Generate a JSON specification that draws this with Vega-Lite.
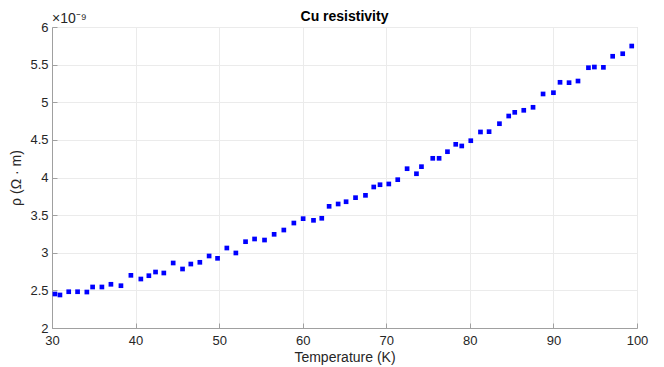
{
  "$schema": "https://vega.github.io/schema/vega-lite/v6.json",
  "autosize": {"type": "none"},
  "width": 585,
  "height": 301,
  "padding": {"left": 52, "top": 27, "right": 27, "bottom": 39},
  "background": "white",
  "config": {
    "font": "Liberation Sans",
    "view": {"stroke": "#d9d9d9", "strokeWidth": 1},
    "axis": {
      "domainColor": "#a0a0a0",
      "tickColor": "#a0a0a0",
      "gridColor": "#ebebeb",
      "labelColor": "#262626",
      "titleColor": "#262626",
      "labelFont": "Liberation Sans",
      "titleFont": "Liberation Sans",
      "labelFontSize": 13,
      "titleFontSize": 14,
      "titleFontWeight": "normal",
      "labelFlush": false
    }
  },
  "title": {
    "text": "Cu resistivity",
    "fontSize": 14,
    "fontWeight": "bold",
    "font": "Liberation Sans",
    "color": "#000000",
    "offset": -12
  },
  "data": {
    "values": [
      {"t": 30.35, "rho": 2.452}, {"t": 30.95, "rho": 2.439}, {"t": 32.0, "rho": 2.482},
      {"t": 33.06, "rho": 2.482}, {"t": 34.17, "rho": 2.478}, {"t": 34.86, "rho": 2.545},
      {"t": 35.97, "rho": 2.545}, {"t": 37.05, "rho": 2.581}, {"t": 38.25, "rho": 2.562},
      {"t": 39.44, "rho": 2.700}, {"t": 40.63, "rho": 2.651}, {"t": 41.59, "rho": 2.695},
      {"t": 42.39, "rho": 2.744}, {"t": 43.38, "rho": 2.731}, {"t": 44.5, "rho": 2.864},
      {"t": 45.62, "rho": 2.784}, {"t": 46.61, "rho": 2.850}, {"t": 47.69, "rho": 2.873},
      {"t": 48.8, "rho": 2.957}, {"t": 49.81, "rho": 2.926}, {"t": 50.92, "rho": 3.063},
      {"t": 52.0, "rho": 2.997}, {"t": 53.16, "rho": 3.147}, {"t": 54.24, "rho": 3.183},
      {"t": 55.43, "rho": 3.169}, {"t": 56.58, "rho": 3.245}, {"t": 57.74, "rho": 3.302},
      {"t": 58.94, "rho": 3.395}, {"t": 60.05, "rho": 3.453}, {"t": 61.29, "rho": 3.431},
      {"t": 62.28, "rho": 3.458}, {"t": 63.16, "rho": 3.617}, {"t": 64.24, "rho": 3.648},
      {"t": 65.19, "rho": 3.678}, {"t": 66.32, "rho": 3.732}, {"t": 67.51, "rho": 3.763},
      {"t": 68.5, "rho": 3.874}, {"t": 69.25, "rho": 3.904}, {"t": 70.3, "rho": 3.914},
      {"t": 71.37, "rho": 3.971}, {"t": 72.49, "rho": 4.117}, {"t": 73.61, "rho": 4.050},
      {"t": 74.21, "rho": 4.144}, {"t": 75.56, "rho": 4.255}, {"t": 76.32, "rho": 4.255},
      {"t": 77.32, "rho": 4.343}, {"t": 78.31, "rho": 4.441}, {"t": 79.03, "rho": 4.419},
      {"t": 80.11, "rho": 4.489}, {"t": 81.27, "rho": 4.605}, {"t": 82.3, "rho": 4.609},
      {"t": 83.54, "rho": 4.715}, {"t": 84.65, "rho": 4.817}, {"t": 85.37, "rho": 4.866},
      {"t": 86.45, "rho": 4.893}, {"t": 87.56, "rho": 4.933}, {"t": 88.76, "rho": 5.110},
      {"t": 90.0, "rho": 5.127}, {"t": 90.79, "rho": 5.265}, {"t": 91.87, "rho": 5.260},
      {"t": 92.94, "rho": 5.282}, {"t": 94.19, "rho": 5.459}, {"t": 94.9, "rho": 5.468},
      {"t": 95.98, "rho": 5.464}, {"t": 97.09, "rho": 5.611}, {"t": 98.29, "rho": 5.645},
      {"t": 99.37, "rho": 5.747}
    ]
  },
  "encoding": {
    "x": {
      "field": "t", "type": "quantitative",
      "scale": {"domain": [30, 100], "nice": false, "zero": false},
      "axis": {"title": "Temperature (K)", "values": [30, 40, 50, 60, 70, 80, 90, 100], "tickSize": -5, "labelPadding": 11, "titlePadding": 3, "format": "d"}
    },
    "y": {
      "field": "rho", "type": "quantitative",
      "scale": {"domain": [2, 6], "nice": false, "zero": false},
      "axis": {"title": "ρ (Ω · m)", "values": [2, 2.5, 3, 3.5, 4, 4.5, 5, 5.5, 6], "labelOverlap": false, "tickSize": -5, "labelPadding": 9, "titlePadding": 6, "format": "~g"}
    }
  },
  "layer": [
    {
      "mark": {"type": "square", "size": 22, "color": "#0000ff", "opacity": 1, "filled": true}
    },
    {
      "data": {"values": [{"t": 30, "rho": 6, "label": "×10⁻⁹"}]},
      "mark": {"type": "text", "align": "left", "baseline": "bottom", "dy": -1, "fontSize": 14, "color": "#262626", "font": "Liberation Sans"},
      "encoding": {
        "text": {"field": "label"}
      }
    }
  ]
}
